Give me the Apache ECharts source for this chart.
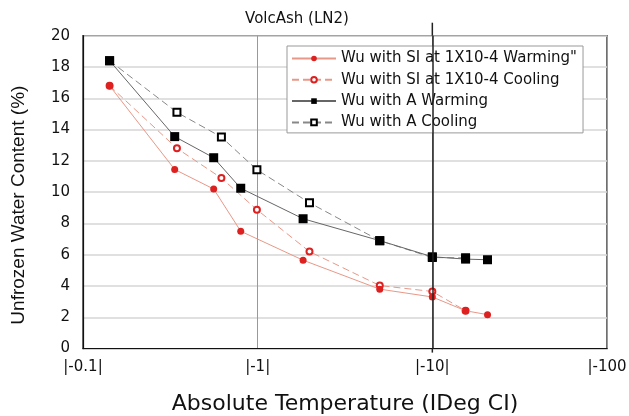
<!DOCTYPE html>
<html><head><meta charset="utf-8">
<script src="https://cdn.jsdelivr.net/npm/echarts@6/dist/echarts.min.js"></script>
<style>html,body{margin:0;padding:0;background:#fff}#c{width:629px;height:416px}</style>
</head><body><div id="c"></div>
<script>
// Data (absolute temperature, unfrozen water content %)
const warmingSI_x = [0.142, 0.335, 0.56, 0.8, 1.82, 5, 10, 15.5, 20.7];
const warmingSI_y = [16.8, 11.45, 10.2, 7.5, 5.65, 3.8, 3.3, 2.42, 2.17];
const coolingSI_x = [0.142, 0.345, 0.62, 0.99, 1.98, 5, 10, 15.5];
const coolingSI_y = [16.8, 12.8, 10.9, 8.88, 6.2, 4.03, 3.65, 2.42];
const warmingA_x = [0.142, 0.335, 0.56, 0.8, 1.82, 5, 10, 15.5, 20.7];
const warmingA_y = [18.4, 13.55, 12.2, 10.25, 8.3, 6.9, 5.87, 5.72, 5.68];
const coolingA_x = [0.142, 0.345, 0.62, 0.99, 1.98, 5, 10, 15.5];
const coolingA_y = [18.4, 15.1, 13.52, 11.43, 9.32, 6.9, 5.82, 5.8];
const seriesNames = ['Wu with SI at 1X10-4 Warming"', 'Wu with SI at 1X10-4 Cooling', 'Wu with A Warming', 'Wu with A Cooling'];
const xTickValues = [0.1, 1, 10, 100];
const xTickLabels = ['|-0.1|', '|-1|', '|-10|', '|-100'];
const markX = 10;

function pairs(xs, ys){ return xs.map((x,i)=>[x, ys[i]]); }

const FONT = '"DejaVu Sans", Verdana, sans-serif';
const chart = echarts.init(document.getElementById('c'), null, {renderer:'canvas'});
const redLine = '#e89888', red = '#dd2020';
chart.setOption({
  animation: false,
  backgroundColor: '#fff',
  title: {text: 'VolcAsh (LN2)', left: 292, top: 7, textAlign: 'center',
    textStyle: {fontFamily: FONT, fontSize: 15, fontWeight: 'normal', color: '#111'}},
  grid: {left: 83, right: 22, top: 35.7, bottom: 67.4, show: true, borderColor: '#111', borderWidth: 1.2,
    containLabel: false, outerBoundsMode: 'none'},
  legend: {
    orient: 'vertical', left: 287, top: 46,
    data: seriesNames,
    itemWidth: 44, itemHeight: 7, itemGap: 6.3,
    padding: [5, 6, 3, 4],
    borderColor: '#999', borderWidth: 1, backgroundColor: '#fff',
    textStyle: {fontFamily: FONT, fontSize: 15, lineHeight: 15, color: '#111'}
  },
  xAxis: {
    type: 'log', logBase: 10, min: 0.1, max: 100,
    name: 'Absolute Temperature (IDeg CI)', nameLocation: 'middle', nameGap: 45,
    nameTextStyle: {fontFamily: FONT, fontSize: 22, color: '#111'},
    axisLine: {show: true, lineStyle: {color: '#111', width: 1.2}},
    axisTick: {show: false},
    minorTick: {show: false},
    splitLine: {show: true, lineStyle: {color: '#999', width: 1}},
    axisLabel: {fontFamily: FONT, fontSize: 15, color: '#111', margin: 11,
      formatter: v => { const i = xTickValues.findIndex(t => Math.abs(t - v) / t < 1e-6); return i >= 0 ? xTickLabels[i] : ''; }}
  },
  yAxis: {
    type: 'value', min: 0, max: 20, interval: 2,
    name: 'Unfrozen Water Content (%)', nameLocation: 'middle', nameGap: 55,
    nameTextStyle: {fontFamily: '"Liberation Sans Narrow", "Liberation Sans", sans-serif', fontSize: 19, color: '#111', padding: [0, 26, 0, 0]},
    axisLine: {show: true, lineStyle: {color: '#111', width: 1.2}},
    axisTick: {show: false},
    splitLine: {show: true, lineStyle: {color: '#d6d6d6', width: 1.5}},
    axisLabel: {fontFamily: FONT, fontSize: 15, color: '#111', margin: 13}
  },
  series: [
    {name: seriesNames[0], type: 'line', data: pairs(warmingSI_x, warmingSI_y), z: 4,
      symbol: 'circle', symbolSize: 7, itemStyle: {color: red},
      lineStyle: {color: redLine, width: 1},
      markLine: {silent: true, symbol: 'none', label: {show: false}, animation: false,
        lineStyle: {color: '#222', width: 1.5, type: 'solid'}, data: [{xAxis: markX}]}},
    {name: seriesNames[1], type: 'line', data: pairs(coolingSI_x, coolingSI_y), z: 3,
      symbol: 'emptyCircle', symbolSize: 6, itemStyle: {color: red, borderColor: red, borderWidth: 1.5},
      lineStyle: {color: redLine, width: 1, type: [7, 4]}},
    {name: seriesNames[2], type: 'line', data: pairs(warmingA_x, warmingA_y), z: 4,
      symbol: 'rect', symbolSize: 9, itemStyle: {color: '#000'},
      lineStyle: {color: '#666', width: 1}},
    {name: seriesNames[3], type: 'line', data: pairs(coolingA_x, coolingA_y), z: 3,
      symbol: 'emptyRect', symbolSize: 7, itemStyle: {color: '#000', borderColor: '#111', borderWidth: 1.3},
      lineStyle: {color: '#888', width: 1, type: [7, 4]}}
  ]
});
// extend the mark line slightly beyond the plot frame
const px = chart.convertToPixel({xAxisIndex: 0}, markX);
const yTop = chart.convertToPixel({yAxisIndex: 0}, 20);
const yBot = chart.convertToPixel({yAxisIndex: 0}, 0);
chart.setOption({graphic: [
  {type: 'line', shape: {x1: px, y1: yTop - 13, x2: px, y2: yTop}, style: {stroke: '#222', lineWidth: 1.5}, z: 1},
  {type: 'line', shape: {x1: px, y1: yBot, x2: px, y2: yBot + 4}, style: {stroke: '#222', lineWidth: 1.5}, z: 1}
]});
</script></body></html>
